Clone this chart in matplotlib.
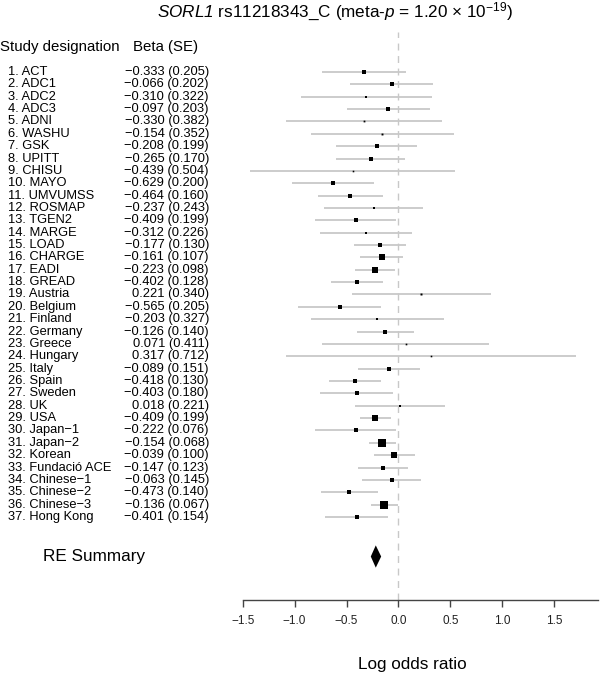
import matplotlib
matplotlib.use("Agg")
import matplotlib.pyplot as plt
from matplotlib.transforms import blended_transform_factory
import numpy as np

plt.rcParams['font.family'] = ['Liberation Sans', 'DejaVu Sans']
plt.rcParams['mathtext.fontset'] = 'custom'
plt.rcParams['mathtext.rm'] = 'Liberation Sans'
plt.rcParams['mathtext.it'] = 'Liberation Sans:italic'
# sf slot used for italic text that includes digits
plt.rcParams['mathtext.sf'] = 'Liberation Sans:italic'

studies = ["ACT", "ADC1", "ADC2", "ADC3", "ADNI", "WASHU", "GSK", "UPITT", "CHISU",
           "MAYO", "UMVUMSS", "ROSMAP", "TGEN2", "MARGE", "LOAD", "CHARGE", "EADI",
           "GREAD", "Austria", "Belgium", "Finland", "Germany", "Greece", "Hungary",
           "Italy", "Spain", "Sweden", "UK", "USA", "Japan\u22121", "Japan\u22122",
           "Korean", "Fundació ACE", "Chinese\u22121", "Chinese\u22122", "Chinese\u22123",
           "Hong Kong"]
beta = [-0.333, -0.066, -0.310, -0.097, -0.330, -0.154, -0.208, -0.265, -0.439,
        -0.629, -0.464, -0.237, -0.409, -0.312, -0.177, -0.161, -0.223, -0.402,
        0.221, -0.565, -0.203, -0.126, 0.071, 0.317, -0.089, -0.418, -0.403,
        0.018, -0.409, -0.222, -0.154, -0.039, -0.147, -0.063, -0.473, -0.136,
        -0.401]
se = [0.205, 0.202, 0.322, 0.203, 0.382, 0.352, 0.199, 0.170, 0.504,
      0.200, 0.160, 0.243, 0.199, 0.226, 0.130, 0.107, 0.098, 0.128,
      0.340, 0.205, 0.327, 0.140, 0.411, 0.712, 0.151, 0.130, 0.180,
      0.221, 0.199, 0.076, 0.068, 0.100, 0.123, 0.145, 0.140, 0.067,
      0.154]
# in the source figure the boxes for USA and Japan-1 sit on each other's rows
marker_row = list(range(1, 38))
marker_row[28], marker_row[29] = 30, 29

re_beta, re_lo, re_hi = -0.218, -0.266, -0.166
xticks = [-1.5, -1.0, -0.5, 0.0, 0.5, 1.0, 1.5]

W, H = 600, 676
fig = plt.figure(figsize=(W / 100, H / 100), dpi=100)

# axes: x from -1.5 (px 242.7) to px 598, y from px 32 to px 600
x0, x1 = 242.7, 598
top, bot = 32, 600
ax = fig.add_axes([x0 / W, 1 - bot / H, (x1 - x0) / W, (bot - top) / H])
px_per_unit = 103.8
ax.set_xlim(-1.5, -1.5 + (x1 - x0) / px_per_unit)
row0, dy = 72, 12.36
ax.set_ylim(1 + (bot - row0) / dy, 1 + (top - row0) / dy)

ax.axvline(0, color='#c8c8c8', lw=1, ls=(0, (5, 4)), zorder=1)

b = np.array(beta)
s = np.array(se)
lo = b - 1.96 * s
hi = b + 1.96 * s
w = 1 / (s ** 2 + 0.005)
side = np.maximum(np.sqrt(w) * 0.69, 1.6)  # pixels
for i in range(len(b)):
    r = marker_row[i]
    ax.plot([lo[i], hi[i]], [r, r], color='#c8c8c8', lw=1.3, solid_capstyle='butt', zorder=2)
    ax.plot(b[i], r, marker='s', ms=side[i] * 0.72, color='black', mew=0, zorder=3)

re_row = 40.2
ax.fill([re_lo, re_beta, re_hi, re_beta], [re_row, re_row - 0.9, re_row, re_row + 0.9],
        color='black', lw=0, zorder=3)

for sp in ['top', 'right', 'left']:
    ax.spines[sp].set_visible(False)
ax.spines['bottom'].set_color('#444444')
ax.spines['bottom'].set_linewidth(1.0)
ax.set_yticks([])
ax.set_xticks(xticks)
ax.set_xticklabels([f"{t:.1f}".replace('-', '\u2212') for t in xticks])
ax.tick_params(axis='x', length=5, width=1, color='#444444', labelsize=8.5, pad=6,
               labelcolor='#222222')

tr = blended_transform_factory(fig.transFigure, ax.transData)
ax.text(0 / W, -1.0, "Study designation", transform=tr, fontsize=10.8, va='center', ha='left')
ax.text(133 / W, -1.0, "Beta (SE)", transform=tr, fontsize=10.8, va='center', ha='left')
for i, name in enumerate(studies):
    r = i + 1
    ax.text(7.5 / W, r, f"{r}. {name}", transform=tr, fontsize=9.3, va='center', ha='left')
    val = f"{beta[i]:.3f} ({se[i]:.3f})".replace('-', '\u2212')
    ax.text(209 / W, r, val, transform=tr, fontsize=9.3, va='center', ha='right')
ax.text(43 / W, re_row, "RE Summary", transform=tr, fontsize=12.3, va='center', ha='left')

fig.text(335 / W, 1 - 1 / H,
         r"$\mathsf{SORL1}$ rs11218343_C (meta-$\it{p}$ = 1.20 × 10$^{-19}$)",
         fontsize=12.3, ha='center', va='top')
fig.text(412 / W, 1 - 665 / H, "Log odds ratio", fontsize=12.3, ha='center', va='center')

fig.savefig("out.png", dpi=100)
